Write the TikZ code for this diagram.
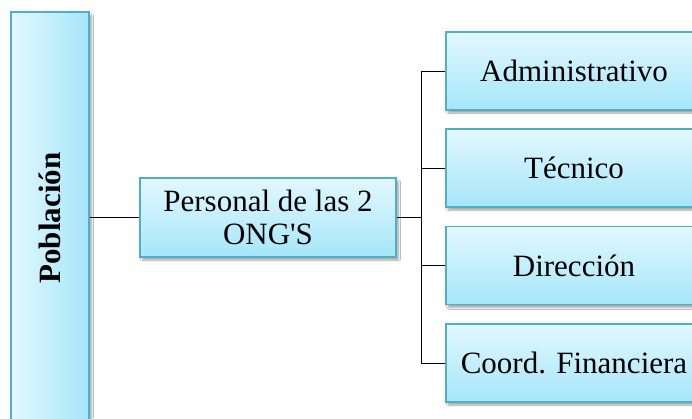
\documentclass[tikz,border=0pt]{standalone}
\usepackage{fontspec}
\setmainfont{Liberation Serif}[Ligatures=TeXOff]
\frenchspacing
\usetikzlibrary{shadows.blur}
\definecolor{boxlight}{HTML}{E2F8FE}
\definecolor{boxdark}{HTML}{A6E6F9}
\definecolor{boxline}{HTML}{4FAEC8}
\tikzset{
  cbox/.style={draw=boxline, line width=1.4pt, top color=boxlight, bottom color=boxdark,
    blur shadow={shadow xshift=2.5pt, shadow yshift=-3pt, shadow blur steps=6, shadow opacity=35},
    inner sep=0pt, font=\fontsize{31}{33}\selectfont, align=center},
  conn/.style={draw=black, line width=1pt}
}
\begin{document}
\begin{tikzpicture}[x=1pt,y=-1pt]
\clip (0,0) rectangle (692,418);
\fill[white] (0,0) rectangle (692,418);
\node[cbox, left color=boxlight, right color=boxdark, minimum width=78pt, minimum height=440pt] (pob) at (50,232) {};
\node[rotate=90, font=\fontsize{31}{33}\selectfont\bfseries, inner sep=0pt] (pobtxt) at (pob.center |- 0,218) {Población};
\node[cbox, minimum width=256pt, minimum height=79pt] (pers) at (268,217.5) {Personal de las 2\\ONG'S};
\node[cbox, minimum width=248pt, minimum height=78pt, text width=248pt] (adm) at (570,71) {\hspace*{8pt}Administrativo};
\node[cbox, minimum width=248pt, minimum height=78pt, text width=248pt] (tec) at (570,168) {\hspace*{8pt}Técnico};
\node[cbox, minimum width=248pt, minimum height=78pt, text width=248pt] (dir) at (570,265.5) {\hspace*{8pt}Dirección};
\node[cbox, minimum width=248pt, minimum height=78pt, text width=248pt] (coo) at (570,363) {\hspace*{8pt}Coord. Financiera};
\coordinate (fork) at (421,217);
\draw[conn] (pob.east |- pers.west) -- (pers.west);
\draw[conn] (pers.east) -- (pers.east -| fork);
\draw[conn] (fork |- adm.west) -- (fork |- coo.west);
\draw[conn] (fork |- adm.west) -- (adm.west);
\draw[conn] (fork |- tec.west) -- (tec.west);
\draw[conn] (fork |- dir.west) -- (dir.west);
\draw[conn] (fork |- coo.west) -- (coo.west);
\end{tikzpicture}
\end{document}
